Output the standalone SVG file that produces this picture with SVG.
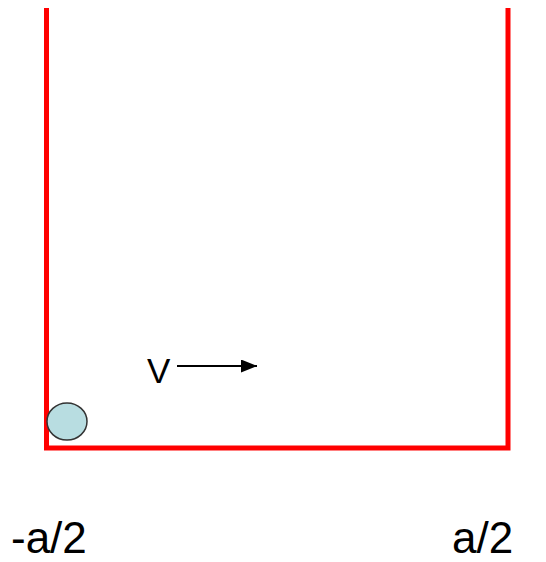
<svg xmlns="http://www.w3.org/2000/svg" width="546" height="562" viewBox="0 0 546 562">
<defs>
<style>
.wall{fill:none;stroke:#ff0000;stroke-width:5;stroke-linejoin:miter}
.lbl{font-family:"Liberation Sans",Arial,sans-serif;fill:#000}
</style>
<marker id="ah" markerWidth="16" markerHeight="13" refX="16" refY="6.5" orient="auto" markerUnits="userSpaceOnUse">
<path d="M0,0 L16,6.5 L0,13 Z" fill="#000"/>
</marker>
</defs>
<rect width="546" height="562" fill="#fff"/>
<g id="well">
<path class="wall" d="M46.5,8 V448 H508 V8"/>
</g>
<g id="particle">
<ellipse cx="67" cy="421.5" rx="20" ry="18.5" fill="#b8dde1" stroke="#333" stroke-width="1.5"/>
</g>
<g id="connectors">
<line x1="177" y1="366" x2="257" y2="366" stroke="#000" stroke-width="1.8" marker-end="url(#ah)"/>
</g>
<g id="labels">
<text class="lbl" x="147" y="383" font-size="35">V</text>
<text class="lbl" x="11" y="553" font-size="44">-a/2</text>
<text class="lbl" x="452" y="553" font-size="44">a/2</text>
</g>
</svg>
